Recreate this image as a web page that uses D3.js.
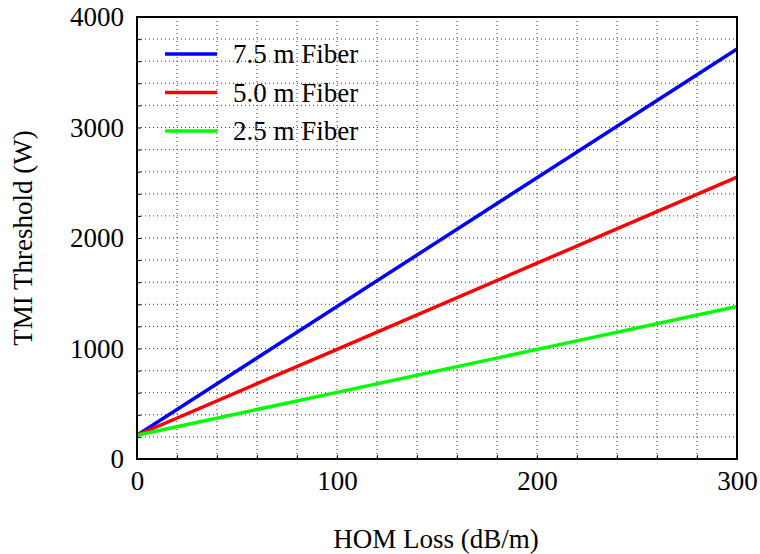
<!DOCTYPE html>
<html>
<head>
<meta charset="utf-8">
<script src="https://cdn.jsdelivr.net/npm/d3@7"></script>
<style>
  body { margin: 0; background: #fff; }
</style>
</head>
<body>
<div id="chart"></div>
<script>
// HOM loss (dB/m) sample points
const homLoss = [0, 100, 200, 300];

// TMI threshold (W) for each fibre length
const fiber75 = [215, 1380, 2545, 3710];
const fiber50 = [215, 993, 1772, 2550];
const fiber25 = [215, 603, 992, 1380];

const seriesNames = ["7.5 m Fiber", "5.0 m Fiber", "2.5 m Fiber"];
const seriesColors = ["#0000ff", "#ff0000", "#00ff00"];

const xTicks = [0, 100, 200, 300];
const yTicks = [0, 1000, 2000, 3000, 4000];

const FONT = "'Liberation Serif', 'Times New Roman', serif";
const FS = "27px";

const W = 760, H = 554;
const margin = { top: 17, right: 23, bottom: 95, left: 137 };
const width = W - margin.left - margin.right,
      height = H - margin.top - margin.bottom;

const svg = d3.select("#chart").append("svg")
  .attr("width", W).attr("height", H)
  .attr("font-family", FONT);
const g = svg.append("g")
  .attr("transform", `translate(${margin.left},${margin.top})`);

const x = d3.scaleLinear().domain([0, 300]).range([0, width]);
const y = d3.scaleLinear().domain([0, 4000]).range([height, 0]);

// dotted grid
const xGrid = d3.range(20, 300, 20);
const yGrid = d3.range(200, 4000, 200);
g.selectAll(".vgrid").data(xGrid).join("line")
  .attr("x1", d => x(d)).attr("x2", d => x(d))
  .attr("y1", 0).attr("y2", height)
  .attr("stroke", "#333").attr("stroke-width", 1)
  .attr("stroke-dasharray", "1,3");
g.selectAll(".hgrid").data(yGrid).join("line")
  .attr("x1", 0).attr("x2", width)
  .attr("y1", d => y(d)).attr("y2", d => y(d))
  .attr("stroke", "#333").attr("stroke-width", 1)
  .attr("stroke-dasharray", "1,3");

// small inward ticks
g.append("g")
  .call(d3.axisLeft(y).tickValues(yGrid).tickSize(-4).tickFormat(""))
  .call(a => a.select(".domain").remove());
g.append("g").attr("transform", `translate(0,${height})`)
  .call(d3.axisBottom(x).tickValues(xGrid).tickSize(-4).tickFormat(""))
  .call(a => a.select(".domain").remove());

// tick labels
const yAxis = g.append("g")
  .call(d3.axisLeft(y).tickValues(yTicks).tickFormat(d3.format("d")).tickSize(0).tickPadding(13))
  .call(a => a.select(".domain").remove());
const xAxis = g.append("g").attr("transform", `translate(0,${height})`)
  .call(d3.axisBottom(x).tickValues(xTicks).tickFormat(d3.format("d")).tickSize(0).tickPadding(12))
  .call(a => a.select(".domain").remove());
[yAxis, xAxis].forEach(a => a.attr("font-family", FONT)
  .selectAll("text").style("font-family", FONT).style("font-size", FS).attr("fill", "#000"));

// lines
const data = [fiber75, fiber50, fiber25];
const line = d3.line()
  .x((d, i) => x(homLoss[i]))
  .y(d => y(d));
g.selectAll(".series").data(data).join("path")
  .attr("d", d => line(d))
  .attr("fill", "none")
  .attr("stroke", (d, i) => seriesColors[i])
  .attr("stroke-width", 3.5);

// frame
g.append("rect")
  .attr("width", width).attr("height", height)
  .attr("fill", "none").attr("stroke", "#000").attr("stroke-width", 2);

// legend
const legend = g.selectAll(".legend").data(seriesNames).join("g")
  .attr("transform", (d, i) => `translate(28,${37 + i * 38.5})`);
legend.append("line")
  .attr("x1", 0).attr("x2", 52)
  .attr("stroke", (d, i) => seriesColors[i]).attr("stroke-width", 3.5);
legend.append("text")
  .attr("x", 68).attr("dy", "0.35em")
  .style("font-family", FONT).style("font-size", FS)
  .text(d => d);

// axis titles
svg.append("text")
  .attr("x", margin.left + width / 2 - 1).attr("y", 548)
  .attr("text-anchor", "middle")
  .style("font-family", FONT).style("font-size", FS)
  .text("HOM Loss (dB/m)");
svg.append("text")
  .attr("transform", `translate(32,${margin.top + height / 2}) rotate(-90)`)
  .attr("text-anchor", "middle")
  .style("font-family", FONT).style("font-size", FS)
  .text("TMI Threshold (W)");
</script>
</body>
</html>
